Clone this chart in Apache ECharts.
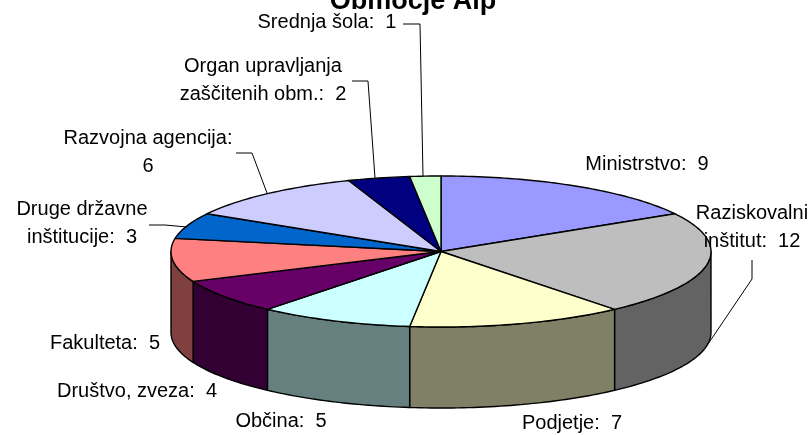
<!DOCTYPE html>
<html><head><meta charset="utf-8">
<style>html,body{margin:0;padding:0;background:#fff}#c{width:812px;height:435px}</style>
<script src="https://cdn.jsdelivr.net/npm/echarts@6/dist/echarts.min.js"></script>
</head><body><div id="c"></div>
<script>
const chartTitle = 'Območje Alp';
const categories = ['Ministrstvo','Raziskovalni\ninštitut','Podjetje','Občina','Društvo, zveza','Fakulteta','Druge državne\ninštitucije','Razvojna agencija','Organ upravljanja\nzaščitenih obm.','Srednja šola'];
const values = [9,12,7,5,4,5,3,6,2,1];
const separators = [':  ',':  ',':  ',':  ',':  ',':  ',':  ',':\n',':  ',':  '];
const topColors = ['#9999FF','#BEBEBE','#FFFFCC','#CCFFFF','#660066','#FF8080','#0066CC','#CCCCFF','#000080','#CCFFCC'];
const sideColors = ['#4D4D80','#636363','#808066','#668080','#330033','#804040','#003366','#666680','#000040','#668066'];
// label anchor (centre) per slice
const labelX = [647,752,572,281,137,105,82,148,263,327];
const labelY = [164,227,423,421,391,343,223,152,80,22];
// leader lines per slice (empty = none)
const leaders = [[],[[752,260],[752,279],[708,344]],[],[],[],[],[[149,225],[165,225],[187,227]],[[236,153],[252,153],[267,193]],[[352,81],[368,81],[375,178]],[[403,24],[420,24],[423,176]]];
const cx=441, cy=251.5, rx=270, ry=75.5, depth=81;

const total = values.reduce((a,b)=>a+b,0);
const angleOf = i => values.slice(0,i).reduce((a,b)=>a+b,0)/total*2*Math.PI;
const pt = (a,dy=0) => [cx+rx*Math.sin(a), cy-ry*Math.cos(a)+dy];
function arc(a0,a1,dy=0){
  const n=Math.max(2,Math.ceil((a1-a0)/0.02)), p=[];
  for(let k=0;k<=n;k++) p.push(pt(a0+(a1-a0)*k/n,dy));
  return p;
}
const stroke={stroke:'#000',lineWidth:1.4,lineJoin:'round'};
function renderSide(params){
  const i=params.dataIndex;
  const a0=Math.max(angleOf(i),Math.PI/2), a1=Math.min(angleOf(i+1),Math.PI*1.5);
  if(a1<=a0) return {type:'group',children:[]};
  const pts=arc(a0,a1).concat(arc(a0,a1,depth).reverse());
  return {type:'polygon',shape:{points:pts},style:Object.assign({fill:sideColors[i]},stroke)};
}
function renderTop(params){
  const i=params.dataIndex;
  const pts=[[cx,cy]].concat(arc(angleOf(i),angleOf(i+1)));
  return {type:'polygon',shape:{points:pts},style:Object.assign({fill:topColors[i]},stroke)};
}
function renderLabel(params,api){
  const i=params.dataIndex, children=[];
  if(leaders[i].length) children.push({type:'polyline',shape:{points:leaders[i]},style:{stroke:'#000',lineWidth:1,fill:null}});
  children.push({type:'text',x:labelX[i],y:labelY[i],style:{
    text:categories[i]+separators[i]+api.value(0),
    x:0,y:0,align:'center',verticalAlign:'middle',
    font:'20px "Liberation Sans", Arial, sans-serif',lineHeight:28,fill:'#000'}});
  return {type:'group',children};
}
const layer=(fn,z)=>({type:'custom',coordinateSystem:'none',renderItem:fn,data:values.map(v=>[v]),z,silent:true,animation:false});
const chart=echarts.init(document.getElementById('c'),null,{renderer:'canvas'});
chart.setOption({
  animation:false,
  backgroundColor:'#fff',
  title:{text:chartTitle,left:408,top:-17,textAlign:'center',textStyle:{fontFamily:'"Liberation Sans", Arial, sans-serif',fontWeight:'bold',fontSize:27,color:'#000'}},
  series:[layer(renderSide,1),layer(renderTop,2),layer(renderLabel,3)]
});
</script></body></html>
